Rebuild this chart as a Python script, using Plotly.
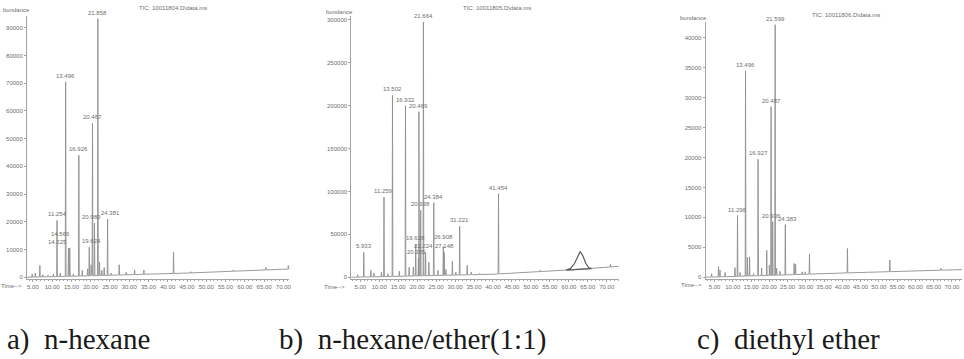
import numpy as np
import plotly.graph_objects as go

# ---------------- data ----------------
TIME_TICKS = [5, 10, 15, 20, 25, 30, 35, 40, 45, 50, 55, 60, 65, 70]
TIME_TICK_TEXT = ["5.00", "10.00", "15.00", "20.00", "25.00", "30.00", "35.00",
                  "40.00", "45.00", "50.00", "55.00", "60.00", "65.00", "70.00"]

# (a) n-hexane extract
A_TITLE = "TIC: 10011804.D\\data.ms"
A_TIMES = [4.8, 5.6, 6.8, 7.6, 8.9, 10.3, 11.254, 12.1, 13.496, 14.225, 14.566, 15.5,
           16.926, 17.8, 19.2, 19.624, 20.1, 20.467, 20.980, 21.858, 22.3, 22.9, 23.5,
           24.381, 25.3, 27.4, 29.2, 31.4, 33.8, 41.5, 46.0, 57.0, 65.5, 71.3]
A_ABUND = [1200, 1500, 4300, 900, 700, 1200, 20500, 1500, 70500, 10500, 10500, 1200,
           44000, 2500, 3000, 10800, 4500, 55500, 19500, 93300, 5500, 2500, 3500,
           21000, 1500, 4500, 1800, 2700, 2600, 9000, 2000, 2600, 3500, 4200]
A_LABELS = ["", "", "", "", "", "", "11.254", "", "13.496", "14.225", "14.566", "",
            "16.926", "", "", "19.624", "", "20.467", "20.980", "21.858", "", "", "",
            "24.381", "", "", "", "", "", "", "", "", "", ""]
A_BASE_T = [3.4, 20.0, 45.0, 72.0]
A_BASE_Y = [0, 500, 1500, 3000]
A_YTICKS = [0, 10000, 20000, 30000, 40000, 50000, 60000, 70000, 80000, 90000]

# (b) n-hexane / ether (1:1) extract
B_TITLE = "TIC: 10011805.D\\data.ms"
B_TIMES = [4.3, 5.933, 7.8, 8.6, 10.6, 11.259, 12.3, 13.502, 15.3, 16.932, 17.9, 19.0,
           19.628, 20.355, 20.469, 20.938, 21.664, 22.224, 23.1, 24.384, 25.5, 26.908,
           27.148, 27.6, 29.3, 30.2, 31.221, 33.2, 34.3, 36.5, 41.454, 52.5, 71.0]
B_ABUND = [3000, 29000, 8000, 5000, 6000, 93500, 4000, 212000, 7000, 200000, 11600, 12000,
           38500, 23000, 193000, 78000, 297500, 29000, 17400, 87000, 8000, 36000,
           29000, 9000, 18600, 6000, 59500, 14000, 6000, 4500, 97500, 8500, 15000]
B_LABELS = ["", "5.933", "", "", "", "11.259", "", "13.502", "", "16.932", "", "",
            "19.628", "20.355", "20.469", "20.938", "21.664", "22.224", "", "24.384", "",
            "26.908", "27.148", "", "", "", "31.221", "", "", "", "41.454", "", ""]
B_BASE_T = [2.6, 20.0, 40.0, 60.0, 73.5]
B_BASE_Y = [0, 1500, 3500, 8500, 12800]
B_HUMP_T = [59.3, 60.5, 61.5, 62.3, 63.0, 63.7, 64.5, 65.3, 66.0]
B_HUMP_Y = [8300, 10500, 16000, 24000, 30000, 25000, 16000, 11000, 10000]
B_YTICKS = [0, 50000, 100000, 150000, 200000, 250000, 300000]

# (c) diethyl ether extract
C_TITLE = "TIC: 10011806.D\\data.ms"
C_TIMES = [4.2, 6.1, 6.5, 7.9, 10.6, 11.296, 12.0, 13.496, 14.0, 14.6, 15.7, 16.927,
           17.9, 19.3, 20.0, 20.487, 20.936, 21.599, 22.0, 22.9, 24.383, 26.8, 27.2,
           29.0, 29.8, 31.0, 33.4, 41.4, 47.1, 53.0, 67.0]
C_ABUND = [600, 1800, 1200, 800, 1600, 10300, 800, 34500, 3300, 3400, 600, 19700,
           1500, 4500, 2000, 28500, 9300, 42200, 1500, 1000, 8800, 2300, 2200,
           900, 900, 3900, 700, 4800, 900, 2900, 1500]
C_LABELS = ["", "", "", "", "", "11.296", "", "13.496", "", "", "", "16.927",
            "", "", "", "20.487", "20.936", "21.599", "", "", "24.383", "", "",
            "", "", "", "", "", "", "", ""]
C_BASE_T = [2.5, 20.0, 40.0, 74.0]
C_BASE_Y = [0, 300, 700, 1300]
C_YTICKS = [0, 5000, 10000, 15000, 20000, 25000, 30000, 35000, 40000]

CAPTIONS = ["a)\u00a0\u00a0n-hexane", "b)\u00a0\u00a0n-hexane/ether(1:1)", "c)\u00a0\u00a0diethyl ether"]

# ---------------- geometry / style ----------------
W, H = 964, 359
LINE = "#8e8e8e"
AXIS = "#a4a4a4"
TXT = "#6e6e6e"
SMALL_FONT = "Liberation Sans Narrow, Arial Narrow, Liberation Sans, Arial"

# nudges (anchor, x shift, y shift) for peak labels that sit shoulder to shoulder
LABEL_NUDGE = {"14.225": ("right", 1, 0), "14.566": ("right", 2, 8),
               "19.624": ("center", 2, 0),
               "20.980": ("center", -3, 0), "24.381": ("center", 3, 0),
               "20.936": ("center", -1, 0), "24.383": ("center", 2, 0),
               "20.355": ("center", -2, 0), "26.908": ("center", 0, 3),
               "27.148": ("center", 0, 0), "22.224": ("center", -2, 0)}


def px(x):
    return x / W


def py(y):
    return 1 - y / H


# per panel: axis pixel box, time calibration (px at 5.00, px per minute),
# abundance calibration (px of zero, px per unit)
PANELS = [
    dict(left=27, right=290, top=16, bottom=280, t5=33, ppm=3.86, y0=278, ppu=27.8 / 10000,
         title_xy=(137, 8), bund_xy=(17, 10), time_xy=(12, 287)),
    dict(left=352, right=620, top=16, bottom=280, t5=361, ppm=3.80, y0=278, ppu=43.0 / 50000,
         title_xy=(462, 8), bund_xy=(340, 12), time_xy=(335, 288)),
    dict(left=707, right=964, top=22, bottom=280, t5=716, ppm=3.66, y0=278, ppu=30.0 / 5000,
         title_xy=(812, 15), bund_xy=(695, 18), time_xy=(693, 286)),
]

DATA = [
    (A_TITLE, A_TIMES, A_ABUND, A_LABELS, A_BASE_T, A_BASE_Y, None, None, A_YTICKS),
    (B_TITLE, B_TIMES, B_ABUND, B_LABELS, B_BASE_T, B_BASE_Y, B_HUMP_T, B_HUMP_Y, B_YTICKS),
    (C_TITLE, C_TIMES, C_ABUND, C_LABELS, C_BASE_T, C_BASE_Y, None, None, C_YTICKS),
]


def chromatogram(times, abund, base_t, base_y, half=0.1):
    pts = list(zip(base_t, base_y))
    for t, h in zip(times, abund):
        for tt in (t - half, t + half):
            pts.append((tt, float(np.interp(tt, base_t, base_y))))
        pts.append((t, h))
    pts.sort(key=lambda p: p[0])
    return [p[0] for p in pts], [p[1] for p in pts]


fig = go.Figure()
annotations = []

for i, (geo, dat) in enumerate(zip(PANELS, DATA)):
    title, times, abund, labels, bt, by, ht, hy, yticks = dat
    n = "" if i == 0 else str(i + 1)
    xa, ya = "x" + n, "y" + n

    xmin = 5 - (geo["t5"] - geo["left"]) / geo["ppm"]
    xmax = 5 + (geo["right"] - geo["t5"]) / geo["ppm"]
    ymax = (geo["y0"] - geo["top"]) / geo["ppu"]
    ymin = (geo["y0"] - geo["bottom"]) / geo["ppu"]

    xs, ys = chromatogram(times, abund, bt, by)
    fig.add_trace(go.Scatter(x=xs, y=ys, mode="lines", xaxis=xa, yaxis=ya,
                             line=dict(color=LINE, width=0.9), hoverinfo="skip",
                             showlegend=False))
    if ht is not None:
        fig.add_trace(go.Scatter(x=list(ht) + [ht[0]],
                                 y=list(hy) + [hy[0]],
                                 mode="lines", xaxis=xa, yaxis=ya,
                                 line=dict(color="#5a5a5a", width=1.2),
                                 hoverinfo="skip", showlegend=False))

    for t, h, lab in zip(times, abund, labels):
        if lab:
            anchor, dx, dy = LABEL_NUDGE.get(lab, ("center", 0, 0))
            annotations.append(dict(x=t, y=h, xref=xa, yref=ya, text=lab, showarrow=False,
                                    yanchor="bottom", xanchor=anchor, yshift=1 + dy, xshift=dx,
                                    font=dict(size=6, color=TXT, family=SMALL_FONT)))

    axkw = dict(showgrid=False, zeroline=False, showline=True, linecolor=AXIS, linewidth=1,
                ticks="outside", ticklen=2, tickcolor=AXIS,
                tickfont=dict(size=6, color=TXT, family=SMALL_FONT))
    fig.update_layout(**{
        ("xaxis" + n): dict(domain=[px(geo["left"]), px(geo["right"])], range=[xmin, xmax],
                            anchor=ya, tickvals=TIME_TICKS, ticktext=TIME_TICK_TEXT,
                            minor=dict(dtick=1, ticklen=1, tickcolor=AXIS, ticks="outside"),
                            **axkw),
        ("yaxis" + n): dict(domain=[py(geo["bottom"]), py(geo["top"])], range=[ymin, ymax],
                            anchor=xa, tickvals=yticks, ticktext=[str(v) for v in yticks],
                            **axkw),
    })

    tx, ty = geo["title_xy"]
    annotations.append(dict(x=px(tx), y=py(ty), xref="paper", yref="paper", text=title,
                            showarrow=False, xanchor="left", yanchor="middle",
                            font=dict(size=6, color=TXT, family=SMALL_FONT)))
    bx, byy = geo["bund_xy"]
    annotations.append(dict(x=px(bx), y=py(byy), xref="paper", yref="paper", text="bundance",
                            showarrow=False, xanchor="center", yanchor="middle",
                            font=dict(size=6, color=TXT, family=SMALL_FONT)))
    mx, my = geo["time_xy"]
    annotations.append(dict(x=px(mx), y=py(my), xref="paper", yref="paper", text="Time-->",
                            showarrow=False, xanchor="center", yanchor="middle",
                            font=dict(size=6, color=TXT, family=SMALL_FONT)))

# panel captions
for cx, cap in zip([5, 278, 696], CAPTIONS):
    annotations.append(dict(x=px(cx), y=py(340), xref="paper", yref="paper", text=cap,
                            showarrow=False, xanchor="left", yanchor="middle",
                            font=dict(size=29, color="#1a1a1a", family="Liberation Serif")))

fig.update_layout(width=W, height=H, margin=dict(l=0, r=0, t=0, b=0),
                  paper_bgcolor="white", plot_bgcolor="white",
                  annotations=annotations, showlegend=False)

fig.write_html("out.html")
